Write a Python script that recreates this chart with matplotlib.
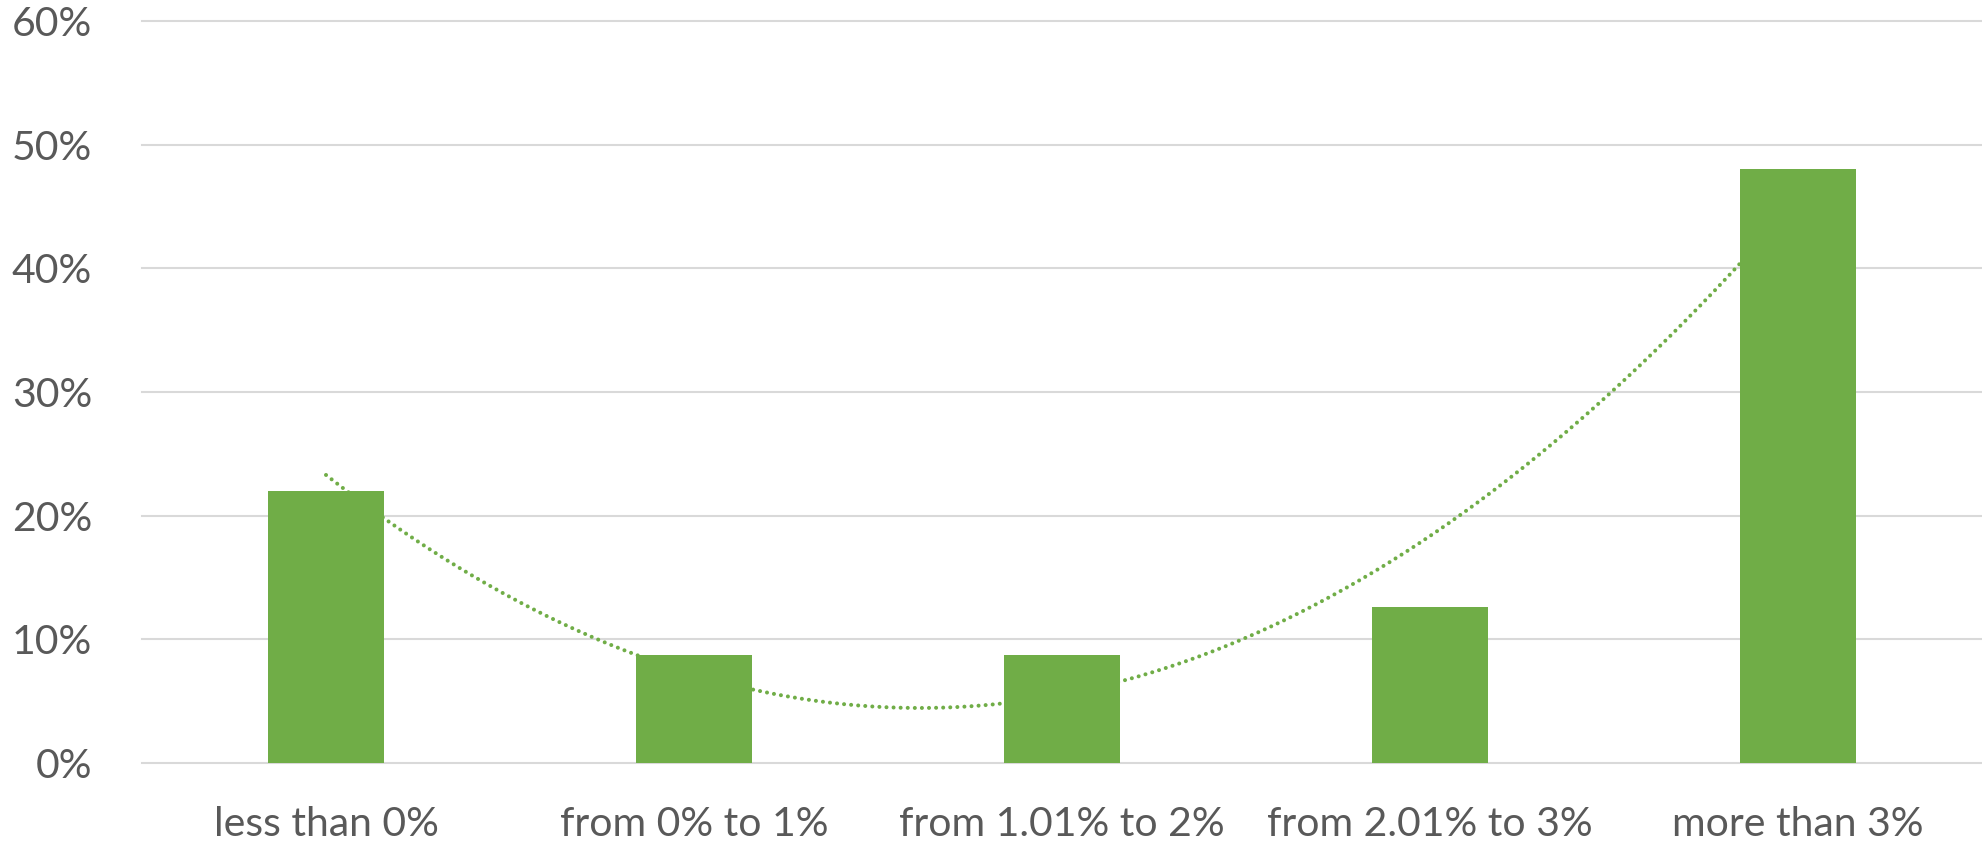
import matplotlib
matplotlib.use("Agg")
import matplotlib.pyplot as plt
import numpy as np

categories = ["less than 0%", "from 0% to 1%", "from 1.01% to 2%", "from 2.01% to 3%", "more than 3%"]
values = [0.22, 0.087, 0.087, 0.126, 0.48]
y_ticks = [0.0, 0.1, 0.2, 0.3, 0.4, 0.5, 0.6]
y_tick_labels = ["0%", "10%", "20%", "30%", "40%", "50%", "60%"]

GREEN = "#70AD47"
GRID = "#D9D9D9"
TEXT = "#595959"

plt.rcParams['font.family'] = ['Lato', 'DejaVu Sans']

W, H = 1982, 848
fig = plt.figure(figsize=(W / 100, H / 100), dpi=100)
left, right, top, bottom = 142, 1982, 21, 763
ax = fig.add_axes([left / W, 1 - bottom / H, (right - left) / W, (bottom - top) / H])

x = np.arange(len(categories))
ax.bar(x, values, width=0.315, color=GREEN, zorder=3)

# polynomial (order 2) trendline fitted to the bar values
coef = np.polyfit(x, values, 2)
xs = np.linspace(x[0], x[-1], 300)
ax.plot(xs, np.polyval(coef, xs), color=GREEN, lw=2.9, linestyle=(0, (0.01, 1.75)),
        dash_capstyle='round', zorder=2)

for yt in y_ticks:
    ax.axhline(yt, color=GRID, lw=1.5, zorder=1, clip_on=False)

ax.set_xlim(-0.5, len(categories) - 0.5)
ax.set_ylim(0, 0.6)
ax.set_xticks(x)
ax.set_xticklabels(categories)
ax.set_yticks(y_ticks)
ax.set_yticklabels(y_tick_labels)
ax.tick_params(axis='both', length=0, labelsize=29.5, colors=TEXT)
ax.tick_params(axis='x', pad=31)
ax.tick_params(axis='y', pad=36)
for s in ax.spines.values():
    s.set_visible(False)

fig.savefig("out.png", dpi=100, facecolor="white")
